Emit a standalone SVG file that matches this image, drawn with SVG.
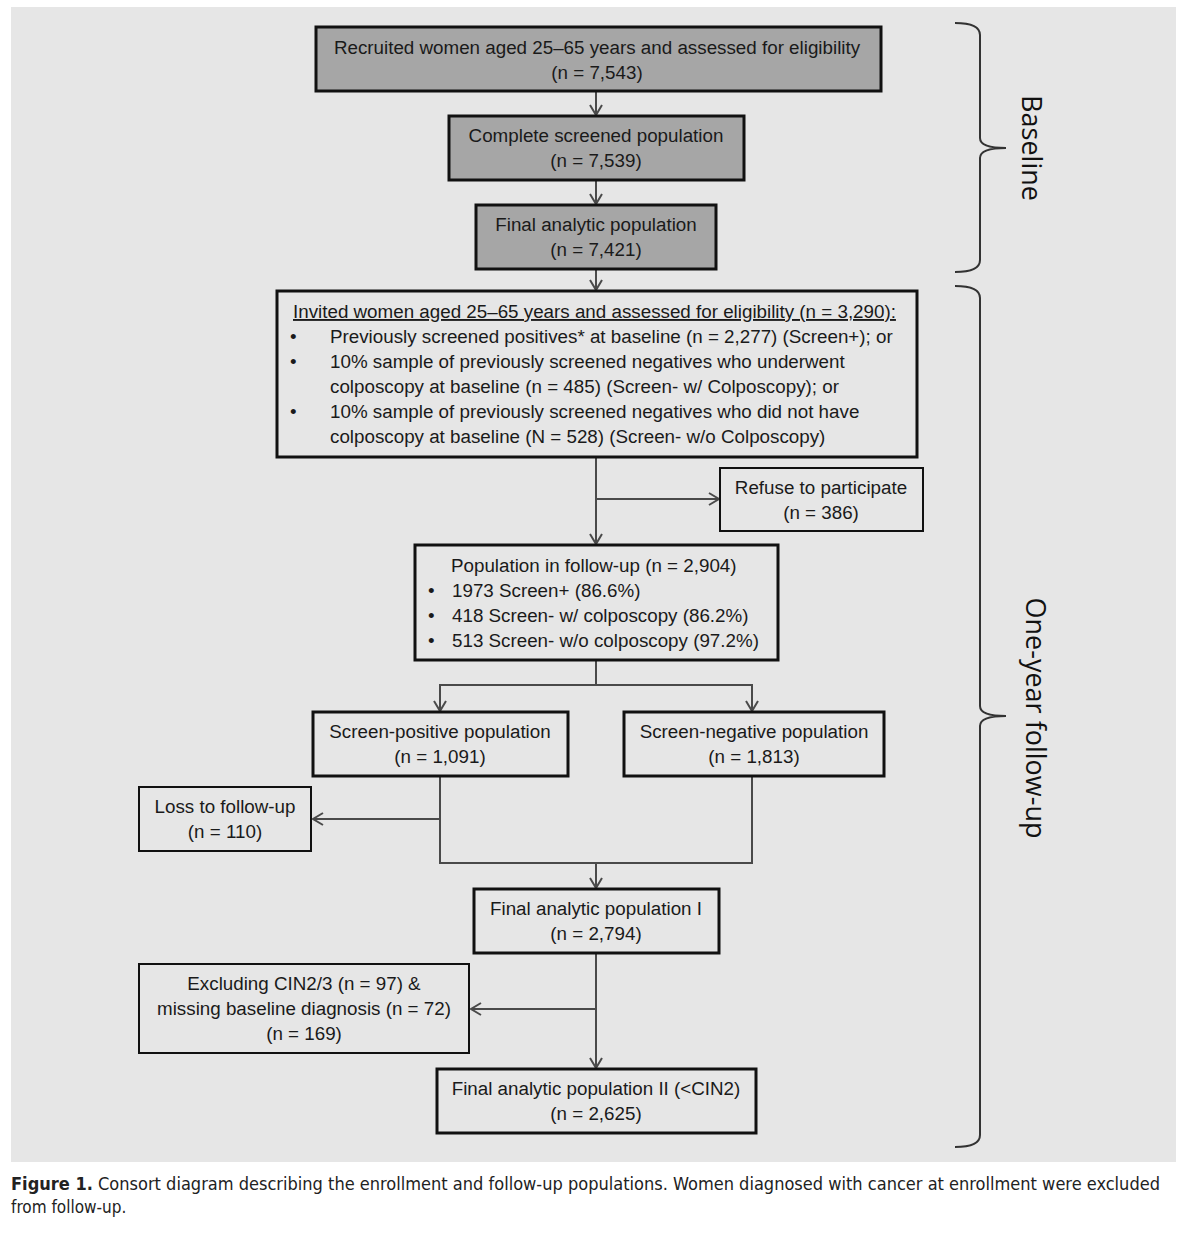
<svg xmlns="http://www.w3.org/2000/svg" width="1188" height="1234" viewBox="0 0 1188 1234">
<defs>
<marker id="arr" markerWidth="16" markerHeight="16" refX="12" refY="8" orient="auto" markerUnits="userSpaceOnUse">
<path d="M2,2 L12,8 L2,14" fill="none" stroke="#4a4a4a" stroke-width="2"/>
</marker>
<style>
.t{font-family:"Liberation Sans",Arial,sans-serif;font-size:18.8px;fill:#1a1a1a}
.c{text-anchor:middle}
.gb{fill:#a6a6a6;stroke:#111;stroke-width:3}
.wb{fill:none;stroke:#111;stroke-width:3}
.thin{fill:none;stroke:#111;stroke-width:2}
.ln{fill:none;stroke:#4a4a4a;stroke-width:2}
.br{fill:none;stroke:#333;stroke-width:2}
.lbl{font-family:"Open Sans","Liberation Sans",sans-serif;font-size:27px;fill:#111}
.cap{font-family:"DejaVu Sans Condensed","Liberation Sans",sans-serif;font-size:17px;fill:#222}
</style>
</defs>
<rect x="0" y="0" width="1188" height="1234" fill="#fff"/>
<rect x="11" y="7" width="1165" height="1155" fill="#e6e6e6"/>

<g id="connectors">
<line class="ln" x1="596" y1="92" x2="596" y2="115" marker-end="url(#arr)"/>
<line class="ln" x1="596" y1="181" x2="596" y2="204" marker-end="url(#arr)"/>
<line class="ln" x1="596" y1="270" x2="596" y2="290" marker-end="url(#arr)"/>
<line class="ln" x1="596" y1="458" x2="596" y2="544" marker-end="url(#arr)"/>
<line class="ln" x1="596" y1="499" x2="719" y2="499" marker-end="url(#arr)"/>
<line class="ln" x1="596" y1="661" x2="596" y2="685"/>
<polyline class="ln" points="440,711 440,685 752,685 752,711" />
<line class="ln" x1="440" y1="690" x2="440" y2="711" marker-end="url(#arr)"/>
<line class="ln" x1="752" y1="690" x2="752" y2="711" marker-end="url(#arr)"/>
<polyline class="ln" points="440,777 440,863 752,863 752,777"/>
<line class="ln" x1="440" y1="819" x2="313" y2="819" marker-end="url(#arr)"/>
<line class="ln" x1="596" y1="863" x2="596" y2="888" marker-end="url(#arr)"/>
<line class="ln" x1="596" y1="954" x2="596" y2="1068" marker-end="url(#arr)"/>
<line class="ln" x1="596" y1="1009" x2="471" y2="1009" marker-end="url(#arr)"/>
</g>

<g id="n1">
<rect class="gb" x="316" y="27" width="565" height="64"/>
<text class="t c" x="597" y="54">Recruited women aged 25–65 years and assessed for eligibility</text>
<text class="t c" x="597" y="79">(n = 7,543)</text>
</g>
<g id="n2">
<rect class="gb" x="449" y="116" width="295" height="64"/>
<text class="t c" x="596" y="142">Complete screened population</text>
<text class="t c" x="596" y="167">(n = 7,539)</text>
</g>
<g id="n3">
<rect class="gb" x="476" y="205" width="240" height="64"/>
<text class="t c" x="596" y="231">Final analytic population</text>
<text class="t c" x="596" y="256">(n = 7,421)</text>
</g>
<g id="n4">
<rect class="wb" x="277" y="291" width="640" height="166"/>
<text class="t" x="293" y="318" text-decoration="underline">Invited women aged 25–65 years and assessed for eligibility (n = 3,290):</text>
<text class="t" x="290" y="343">•</text>
<text class="t" x="330" y="343">Previously screened positives* at baseline (n = 2,277) (Screen+); or</text>
<text class="t" x="290" y="368">•</text>
<text class="t" x="330" y="368">10% sample of previously screened negatives who underwent</text>
<text class="t" x="330" y="393">colposcopy at baseline (n = 485) (Screen- w/ Colposcopy); or</text>
<text class="t" x="290" y="418">•</text>
<text class="t" x="330" y="418">10% sample of previously screened negatives who did not have</text>
<text class="t" x="330" y="443">colposcopy at baseline (N = 528) (Screen- w/o Colposcopy)</text>
</g>
<g id="n5">
<rect class="thin" x="720" y="468" width="203" height="63"/>
<text class="t c" x="821" y="494">Refuse to participate</text>
<text class="t c" x="821" y="519">(n = 386)</text>
</g>
<g id="n6">
<rect class="wb" x="415" y="545" width="363" height="115"/>
<text class="t" x="451" y="572">Population in follow-up (n = 2,904)</text>
<text class="t" x="428" y="597">•</text>
<text class="t" x="452" y="597">1973 Screen+ (86.6%)</text>
<text class="t" x="428" y="622">•</text>
<text class="t" x="452" y="622">418 Screen- w/ colposcopy (86.2%)</text>
<text class="t" x="428" y="647">•</text>
<text class="t" x="452" y="647">513 Screen- w/o colposcopy (97.2%)</text>
</g>
<g id="n7">
<rect class="wb" x="313" y="712" width="255" height="64"/>
<text class="t c" x="440" y="738">Screen-positive population</text>
<text class="t c" x="440" y="763">(n = 1,091)</text>
</g>
<g id="n8">
<rect class="wb" x="624" y="712" width="260" height="64"/>
<text class="t c" x="754" y="738">Screen-negative population</text>
<text class="t c" x="754" y="763">(n = 1,813)</text>
</g>
<g id="n9">
<rect class="thin" x="139" y="787" width="172" height="64"/>
<text class="t c" x="225" y="813">Loss to follow-up</text>
<text class="t c" x="225" y="838">(n = 110)</text>
</g>
<g id="n10">
<rect class="wb" x="474" y="889" width="245" height="64"/>
<text class="t c" x="596" y="915">Final analytic population I</text>
<text class="t c" x="596" y="940">(n = 2,794)</text>
</g>
<g id="n11">
<rect class="thin" x="139" y="964" width="330" height="89"/>
<text class="t c" x="304" y="990">Excluding CIN2/3 (n = 97) &amp;</text>
<text class="t c" x="304" y="1015">missing baseline diagnosis (n = 72)</text>
<text class="t c" x="304" y="1040">(n = 169)</text>
</g>
<g id="n12">
<rect class="wb" x="437" y="1069" width="319" height="64"/>
<text class="t c" x="596" y="1095">Final analytic population II (&lt;CIN2)</text>
<text class="t c" x="596" y="1120">(n = 2,625)</text>
</g>

<g id="brackets">
<path class="br" d="M955,23 Q980,23 980,35 L980,138 Q980,148 1006,148 Q980,148 980,158 L980,260 Q980,272 955,272"/>
<text class="lbl c" transform="translate(1022,148) rotate(90)">Baseline</text>
<path class="br" d="M955,286 Q980,286 980,298 L980,706 Q980,716 1006,716 Q980,716 980,726 L980,1135 Q980,1147 955,1147"/>
<text class="lbl c" transform="translate(1026,718) rotate(90)">One-year follow-up</text>
</g>

<g id="caption">
<text class="cap" x="11" y="1190" textLength="1149" lengthAdjust="spacingAndGlyphs"><tspan font-weight="bold">Figure 1.</tspan> Consort diagram describing the enrollment and follow-up populations. Women diagnosed with cancer at enrollment were excluded</text>
<text class="cap" x="11" y="1213">from follow-up.</text>
</g>
</svg>
